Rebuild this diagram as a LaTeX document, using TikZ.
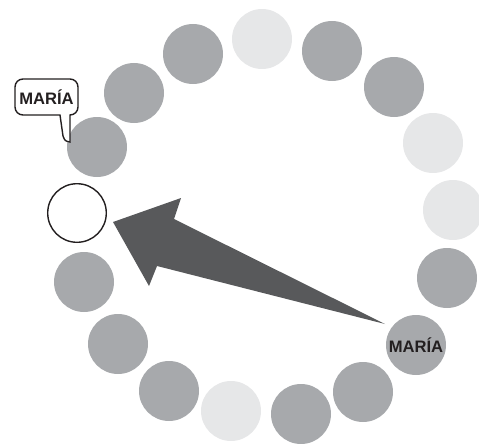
\documentclass[tikz,border=0pt]{standalone}
\usepackage{fontspec}
\usepackage{xcolor}
\newfontfamily\pRingFont{Liberation Sans}
\definecolor{pRingDot}{HTML}{A7A9AC}
\definecolor{pRingPale}{HTML}{E6E7E8}
\definecolor{pRingArrow}{HTML}{58595B}
\definecolor{pRingInk}{HTML}{231F20}

\begin{document}
\begin{tikzpicture}[x=1pt,y=-1pt,
  ringDot/.style={circle, fill=pRingDot, minimum size=60pt, inner sep=0pt},
  ringPale/.style={ringDot, fill=pRingPale},
  ringEmpty/.style={circle, draw=pRingInk, line width=1.4pt, fill=white, minimum size=58.6pt, inner sep=0pt},
  nameText/.style={font=\pRingFont\bfseries\fontsize{16.6pt}{16.6pt}\selectfont, text=pRingInk, inner sep=0pt},
  bubbleLine/.style={draw=pRingInk, line width=1.4pt, fill=white}]
\useasboundingbox (0,0) rectangle (479,444);
\node[ringPale] (c0) at (262,39) {};
\node[ringDot] (c1) at (332,51) {};
\node[ringDot] (c2) at (394,87) {};
\node[ringPale] (c3) at (433,143) {};
\node[ringPale] (c4) at (453,210) {};
\node[ringDot] (c5) at (447,278) {};
\node[ringDot, nameText] (c6) at (416,345) {MARÍA};
\node[ringDot] (c7) at (363,392) {};
\node[ringDot] (c8) at (301,414) {};
\node[ringPale] (c9) at (231,411) {};
\node[ringDot] (c10) at (169,391) {};
\node[ringDot] (c11) at (118,344) {};
\node[ringDot] (c12) at (84,282) {};
\node[ringEmpty] (c13) at (77,213) {};
\node[ringDot] (c14) at (97,147) {};
\node[ringDot] (c15) at (134,93) {};
\node[ringDot] (c16) at (193,54) {};
% speech bubble above c14
\draw[bubbleLine] (60,115) [rounded corners=8pt] -- (15,115) -- (15,79) -- (78,79) -- (78,115) [sharp corners] -- (70,115) -- (70,142) .. controls (65,141) .. (63,136) -- cycle;
\node[nameText] (bubbleText) at (46.5,97) {MARÍA};
% arrow from c6 to c13
\coordinate (arrowTail) at (385,324);
\coordinate (arrowTip) at (113,222);
\fill[pRingArrow] (arrowTip) -- (181,198) -- (174,219) -- (arrowTail) -- (157,266) -- (149,286) -- cycle;
\end{tikzpicture}
\end{document}
